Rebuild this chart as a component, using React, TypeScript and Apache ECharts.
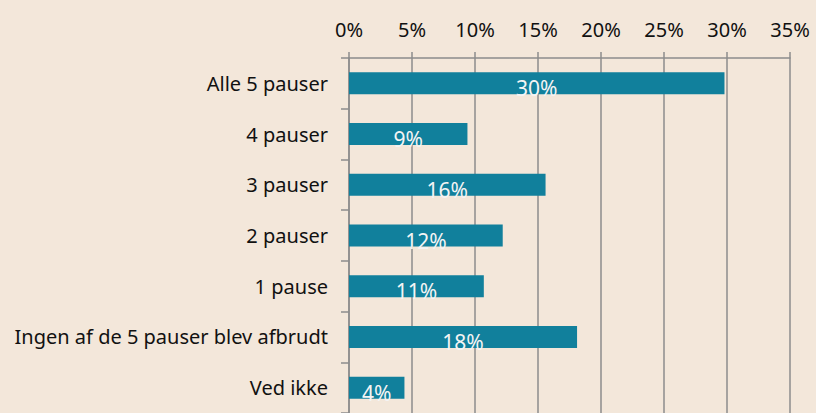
import React, { useEffect, useRef } from "react";
import * as echarts from "echarts";

const categories = [
  "Alle 5 pauser",
  "4 pauser",
  "3 pauser",
  "2 pauser",
  "1 pause",
  "Ingen af de 5 pauser blev afbrudt",
  "Ved ikke",
];
const values = [29.8, 9.4, 15.6, 12.2, 10.7, 18.1, 4.4];
const labels = ["30%", "9%", "16%", "12%", "11%", "18%", "4%"];

const FONT = "'Noto Sans', sans-serif";

export default function App() {
  const ref = useRef<HTMLDivElement>(null);
  useEffect(() => {
    if (!ref.current) return;
    const chart = echarts.init(ref.current, undefined, { renderer: "svg" });
    chart.setOption({
      animation: false,
      backgroundColor: "#F3E7DA",
      grid: { left: 349, right: 26, top: 58, bottom: -5, containLabel: false },
      xAxis: {
        type: "value",
        position: "top",
        min: 0,
        max: 35,
        interval: 5,
        axisLine: { show: true, lineStyle: { color: "#8C8C8C", width: 1.5 } },
        axisTick: { show: true, length: 6, lineStyle: { color: "#8C8C8C", width: 1.5 } },
        splitLine: { show: true, lineStyle: { color: "#8C8C8C", width: 1.5 } },
        axisLabel: {
          formatter: "{value}%",
          color: "#111",
          fontSize: 20,
          fontFamily: FONT,
          margin: 19,
        },
      },
      yAxis: {
        type: "category",
        inverse: true,
        data: categories,
        axisLine: { show: true, lineStyle: { color: "#8C8C8C", width: 1.5 } },
        axisTick: { show: true, length: 8, lineStyle: { color: "#8C8C8C", width: 1.5 } },
        axisLabel: {
          color: "#111",
          fontSize: 20,
          fontFamily: FONT,
          margin: 21,
        },
      },
      series: [
        {
          type: "bar",
          data: values,
          barWidth: 22,
          itemStyle: { color: "#11809C" },
          label: {
            show: true,
            position: "inside",
            offset: [0, 5],
            color: "#F4F4F4",
            fontSize: 21,
            fontFamily: FONT,
            formatter: (p: any) => labels[p.dataIndex],
          },
        },
      ],
    });
    return () => chart.dispose();
  }, []);
  return (
    <div
      ref={ref}
      style={{ position: "fixed", left: 0, top: 0, width: 816, height: 413 }}
    />
  );
}
